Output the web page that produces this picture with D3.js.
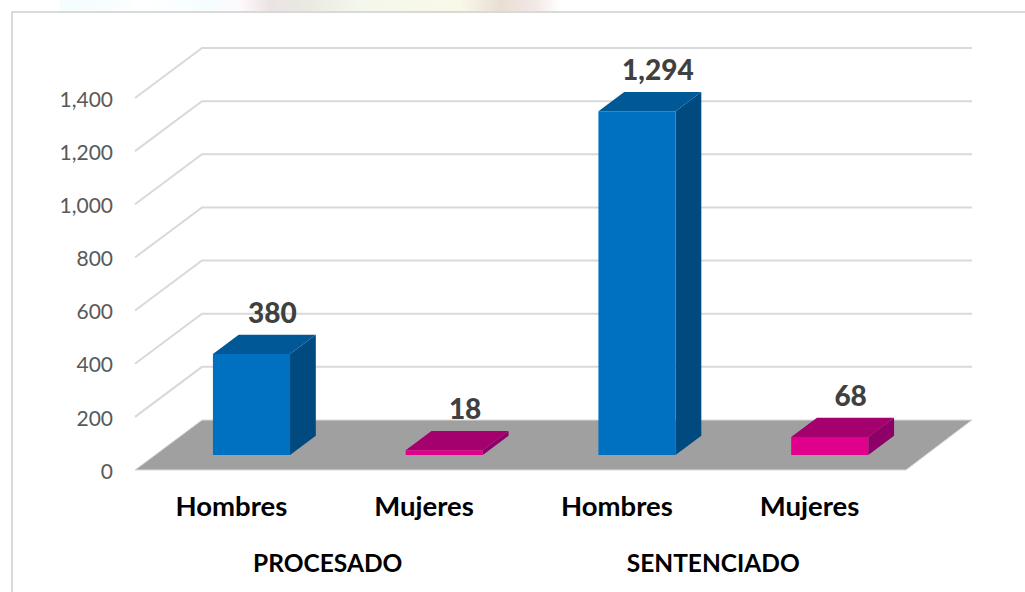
<!DOCTYPE html>
<html>
<head>
<meta charset="utf-8">
<script src="https://cdn.jsdelivr.net/npm/d3@7"></script>
<style>
  html, body { margin: 0; padding: 0; background: #fff; }
  svg { display: block; }
  text { font-family: Lato, "Open Sans", sans-serif; }
</style>
</head>
<body>
<div id="chart"></div>
<script>
// values
const groups = ["PROCESADO", "SENTENCIADO"];
const categories = ["Hombres", "Mujeres", "Hombres", "Mujeres"];
const values = [380, 18, 1294, 68];
const yTicks = [0, 200, 400, 600, 800, 1000, 1200, 1400];

const width = 1025, height = 592;

const svg = d3.select("#chart")
  .append("svg")
    .attr("width", width)
    .attr("height", height);

// faded strip of the page behind the chart, top edge
const strip = svg.append("defs").append("linearGradient")
  .attr("id", "strip")
  .attr("gradientUnits", "userSpaceOnUse")
  .attr("x1", 60).attr("x2", 560).attr("y1", 0).attr("y2", 0);
[[0, "#f6fdfe"], [0.1, "#f8fdfe"], [0.16, "#ffffff"], [0.3, "#f6fdff"], [0.36, "#fdf9fb"],
 [0.42, "#ebe3e3"], [0.5, "#eaeae2"], [0.6, "#f4f7ec"], [0.8, "#f9f9e8"], [0.88, "#e8dfd2"],
 [0.95, "#f2e8e6"], [1, "#ffffff"]].forEach(s => {
  strip.append("stop").attr("offset", s[0]).attr("stop-color", s[1]);
});
svg.append("rect")
  .attr("x", 60).attr("y", 0)
  .attr("width", 500).attr("height", 11)
  .attr("fill", "url(#strip)");

// frame of the chart area
svg.append("path")
  .attr("d", "M12,592V12H1025")
  .attr("fill", "none")
  .attr("stroke", "#d9d9d9")
  .attr("stroke-width", 2);

// scales on the front plane of the floor
const x = d3.scaleBand()
  .domain(d3.range(categories.length))
  .range([135, 906])
  .paddingInner(0.6)
  .paddingOuter(0.3);

const y = d3.scaleLinear()
  .domain([0, 1400])
  .range([470, 98]);

// oblique projection, depth goes 0 (front) to 1 (back of the floor)
const depthX = 67, depthY = 50;
const project = (px, py, d) => [px + d * depthX, py - d * depthY];
const poly = pts => "M" + pts.map(p => p.join(",")).join("L") + "Z";

// gridlines
svg.append("g")
  .selectAll("path")
  .data(yTicks.filter(d => d > 0))
  .enter()
  .append("path")
    .attr("d", d => {
      const a = project(135, y(d), 0), b = project(135, y(d), 1), c = project(905, y(d), 1);
      return "M" + a + "L" + b + "L" + c;
    })
    .attr("fill", "none")
    .attr("stroke", "#d9d9d9")
    .attr("stroke-width", 2);

// floor
svg.append("path")
  .attr("d", poly([project(135, y(0), 0), project(135, y(0), 1), project(905, y(0), 1), project(906, y(0), 0)]))
  .attr("fill", "#a0a0a0")
  .attr("stroke", "#d9d9d9")
  .attr("stroke-width", 1);

// y axis labels
const yAxis = svg.append("g")
  .attr("transform", "translate(118,1.5)")
  .call(d3.axisLeft(y).tickValues(yTicks).tickSize(0).tickPadding(5).tickFormat(d3.format(",")));
yAxis.select(".domain").remove();
yAxis.selectAll("text")
  .attr("dy", "0.32em")
  .style("font-family", "Lato, sans-serif")
  .style("font-size", "21px")
  .attr("fill", "#595959");

// bars: front, top and side faces
const barDepth = [0.3, 0.685];
const faces = [
  { name: "side", colors: ["#004a80", "#8c0068"] },
  { name: "top", colors: ["#005896", "#a4006e"] },
  { name: "front", colors: ["#0070c0", "#e0008c"] }
];

function facePoints(face, i) {
  const x0 = x(i), x1 = x(i) + x.bandwidth();
  const yb = y(0), yt = y(values[i]);
  const [d0, d1] = barDepth;
  if (face === "front") return [project(x0, yb, d0), project(x0, yt, d0), project(x1, yt, d0), project(x1, yb, d0)];
  if (face === "top") return [project(x0, yt, d0), project(x0, yt, d1), project(x1, yt, d1), project(x1, yt, d0)];
  return [project(x1, yb, d0), project(x1, yt, d0), project(x1, yt, d1), project(x1, yb, d1)];
}

faces.forEach(f => {
  svg.append("g")
    .selectAll("path")
    .data(values)
    .enter()
    .append("path")
      .attr("d", (d, i) => poly(facePoints(f.name, i)))
      .attr("fill", (d, i) => f.colors[i % 2]);
});

// value labels
svg.append("g")
  .selectAll("text")
  .data(values)
  .enter()
  .append("text")
    .attr("x", (d, i) => x(i) + x.bandwidth() / 2 + 41)
    .attr("y", d => y(d) - barDepth[1] * depthY - 12)
    .attr("text-anchor", "middle")
    .attr("font-size", 28)
    .attr("font-weight", 900)
    .attr("fill", "#404040")
    .text(d => d3.format(",")(d));

// category labels
svg.append("g")
  .selectAll("text")
  .data(categories)
  .enter()
  .append("text")
    .attr("x", (d, i) => x(i) + x.bandwidth() / 2)
    .attr("y", 516)
    .attr("text-anchor", "middle")
    .attr("font-size", 27.5)
    .attr("font-weight", 700)
    .attr("fill", "#000")
    .text(d => d);

// group labels
svg.append("g")
  .selectAll("text")
  .data(groups)
  .enter()
  .append("text")
    .attr("x", (d, i) => (x(i * 2) + x(i * 2 + 1) + x.bandwidth()) / 2)
    .attr("y", 572)
    .attr("text-anchor", "middle")
    .attr("font-size", 24.5)
    .attr("font-weight", 700)
    .attr("fill", "#000")
    .text(d => d);
</script>
</body>
</html>
